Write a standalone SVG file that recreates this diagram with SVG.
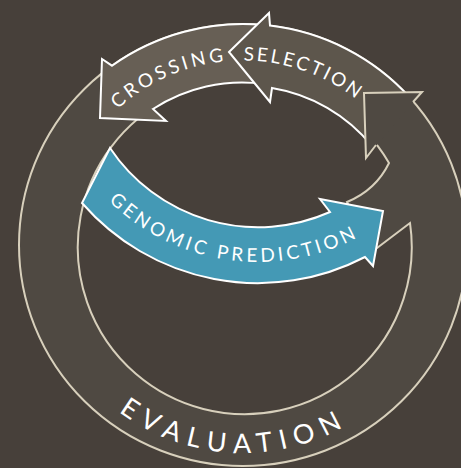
<svg xmlns="http://www.w3.org/2000/svg" xmlns:xlink="http://www.w3.org/1999/xlink" width="461" height="468" viewBox="0 0 461 468">
  <defs>
    <style>
      .ring { fill: #4f4942; stroke: #d8d0bc; stroke-width: 2; fill-rule: evenodd; stroke-linejoin: miter; }
      .ring-fill { fill: #4f4942; stroke: none; }
      .ring-edge { fill: none; stroke: #d8d0bc; stroke-width: 2; stroke-linejoin: miter; }
      .band { stroke: #ffffff; stroke-width: 2; stroke-linejoin: miter; }
      .crossing { fill: #675f55; }
      .selection { fill: #5d564c; }
      .gp { fill: #4499b5; }
      .label { fill: #ffffff; font-family: Lato, "Open Sans", "DejaVu Sans", sans-serif; font-weight: 400; }
      .small { font-size: 19px; }
      .big { font-size: 27px; letter-spacing: 8px; }
    </style>
    <!-- baselines for the curved labels -->
    <path id="evalPath" d="M 37.6,271.6 A 207 207 0 0 0 444.8,292.2"/>
    <path id="crossPath" d="M 58.6,225.6 A 185.5 185.5 0 0 1 352.8,96.5"/>
    <path id="selPath" d="M 121.8,105.6 A 185.5 185.5 0 0 1 425.2,211.2"/>
    <path id="gpPath" d="M 60.5,128.8 A 213 213 0 0 0 425.8,180.1"/>
  </defs>

  <rect width="461" height="468" fill="#47403a"/>

  <!-- evaluation ring: outer ellipse with a spiralling inner wall on the right -->
  <g id="evaluation">
    <path class="ring" d="M 19,245 A 224 221 0 1 1 467,245 A 224 221 0 1 1 19,245 Z
      M 410,223 A 167 167 0 1 1 389,163 Q 376,190 347,202 L 362,235 L 377,248 Z"/>
    <text class="label big"><textPath xlink:href="#evalPath" href="#evalPath" startOffset="50%" text-anchor="middle">EVALUATION</textPath></text>
  </g>

  <g id="crossing">
    <path class="band crossing" d="M 100,118 L 102,59 L 112,65.7 A 224 221 0 0 1 264,25 L 264,84 A 163 163 0 0 0 153,109 L 166,121 Z"/>
    <text class="label small" letter-spacing="3.5"><textPath xlink:href="#crossPath" href="#crossPath" startOffset="50%" text-anchor="middle">CROSSING</textPath></text>
  </g>

  <g id="selection">
    <path class="band selection" d="M 229,52 L 269,13 L 270,25.6 A 224 221 0 0 1 410,97.7 L 372,146 A 163 163 0 0 0 272,88 L 270,102 Z"/>
    <text class="label small" letter-spacing="2.5"><textPath xlink:href="#selPath" href="#selPath" startOffset="50%" text-anchor="middle">SELECTION</textPath></text>
  </g>

  <!-- head of the evaluation ring sits above the selection band -->
  <g id="evaluation-head">
    <path class="ring-fill" d="M 364,93 L 422,92 L 366,158 Z"/>
    <path class="ring-edge" d="M 413,102 L 422,92 L 364,93 L 366,158 L 376,145"/>
  </g>

  <g id="genomic-prediction">
    <path class="band gp" d="M 110,148 A 178 178 0 0 0 330,212 L 320,199 L 383,211 L 373,266 L 365,257 A 233 233 0 0 1 82,203 Z"/>
    <text class="label small" letter-spacing="3.5"><textPath xlink:href="#gpPath" href="#gpPath" startOffset="50%" text-anchor="middle">GENOMIC PREDICTION</textPath></text>
  </g>
</svg>
